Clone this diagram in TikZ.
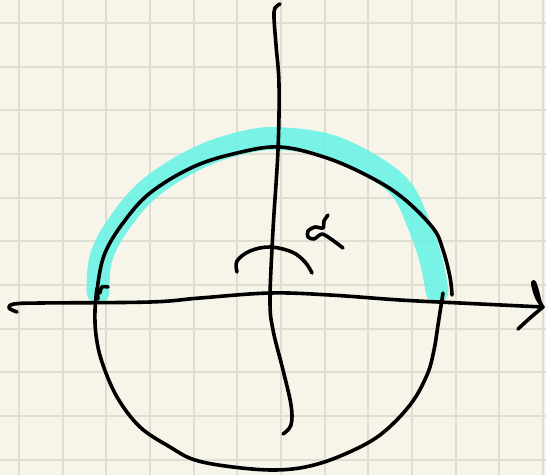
\documentclass[tikz,border=0pt]{standalone}
\definecolor{paper}{RGB}{247,245,233}
\definecolor{gridc}{RGB}{224,222,210}
\definecolor{hl}{RGB}{108,243,230}
\tikzset{
  ink/.style={line width=3.6pt, line cap=round, line join=round, black},
  marker/.style={line width=23pt, line cap=round, line join=round, hl, opacity=0.9},
  gridline/.style={line width=2pt, gridc}
}
\begin{document}
\begin{tikzpicture}[x=1pt,y=-1pt]
\fill[paper] (0,0) rectangle (546,475);
\useasboundingbox (0,0) rectangle (546,475);
% grid
\foreach \k in {0,...,12} {
  \draw[gridline] ({19+43.67*\k},0) -- ({19+43.67*\k},475);
}
\foreach \k in {0,...,10} {
  \draw[gridline] (0,{23+43.67*\k}) -- (546,{23+43.67*\k});
}
% highlight of upper arc
\draw[marker] plot[smooth, tension=0.6] coordinates {(98,292) (101,258) (118,225) (150,188) (200,157) (250,141) (285,139) (330,146) (372,166) (402,190) (419,225) (431,260) (437,291)};
% horizontal axis
\draw[ink] plot[smooth, tension=0.6] coordinates {(17,312) (9,308) (14,304) (40,303) (150,302) (200,298) (270,293) (330,295) (400,300) (460,303) (543,307)};
% arrow head
\draw[ink] plot[smooth, tension=0.7] coordinates {(543,307) (537,298) (533,285) (534,282) (537,290) (540,302) (543,307)};
\draw[ink] plot[smooth, tension=0.6] coordinates {(543,307) (530,318) (518,329)};
% vertical axis
\draw[ink] plot[smooth, tension=0.6] coordinates {(280,4) (275,8) (274,18) (276,45) (279,85) (278,150) (273,230) (270,300) (273,330) (283,370) (291,405) (291,425) (283,434)};
% circle upper arc
\draw[ink] plot[smooth, tension=0.6] coordinates {(98,299) (98,283) (105,253) (123,223) (150,193) (193,167) (237,153) (280,147) (327,158) (370,177) (403,198) (433,228) (443,250) (450,277) (452,295)};
% small hook at left intersection
\draw[ink] plot[smooth, tension=0.6] coordinates {(100,293) (102,287) (108,287)};
% circle lower arc
\draw[ink] plot[smooth, tension=0.6] coordinates {(97,288) (95,310) (96,335) (102,362) (117,397) (140,427) (170,447) (195,460) (233,467) (275,470) (310,466) (345,454) (380,435) (410,405) (427,375) (434,350) (438,325) (443,293)};
% angle arc
\draw[ink] plot[smooth, tension=0.6] coordinates {(237,272) (237,261) (250,251) (270,247) (292,252) (305,262) (312,273)};
% alpha
\draw[ink] plot[smooth, tension=0.45] coordinates {(328,215) (324,221) (323,228) (315,227) (308,231) (308,237) (314,239) (322,234) (331,239) (343,248)};
\end{tikzpicture}
\end{document}
